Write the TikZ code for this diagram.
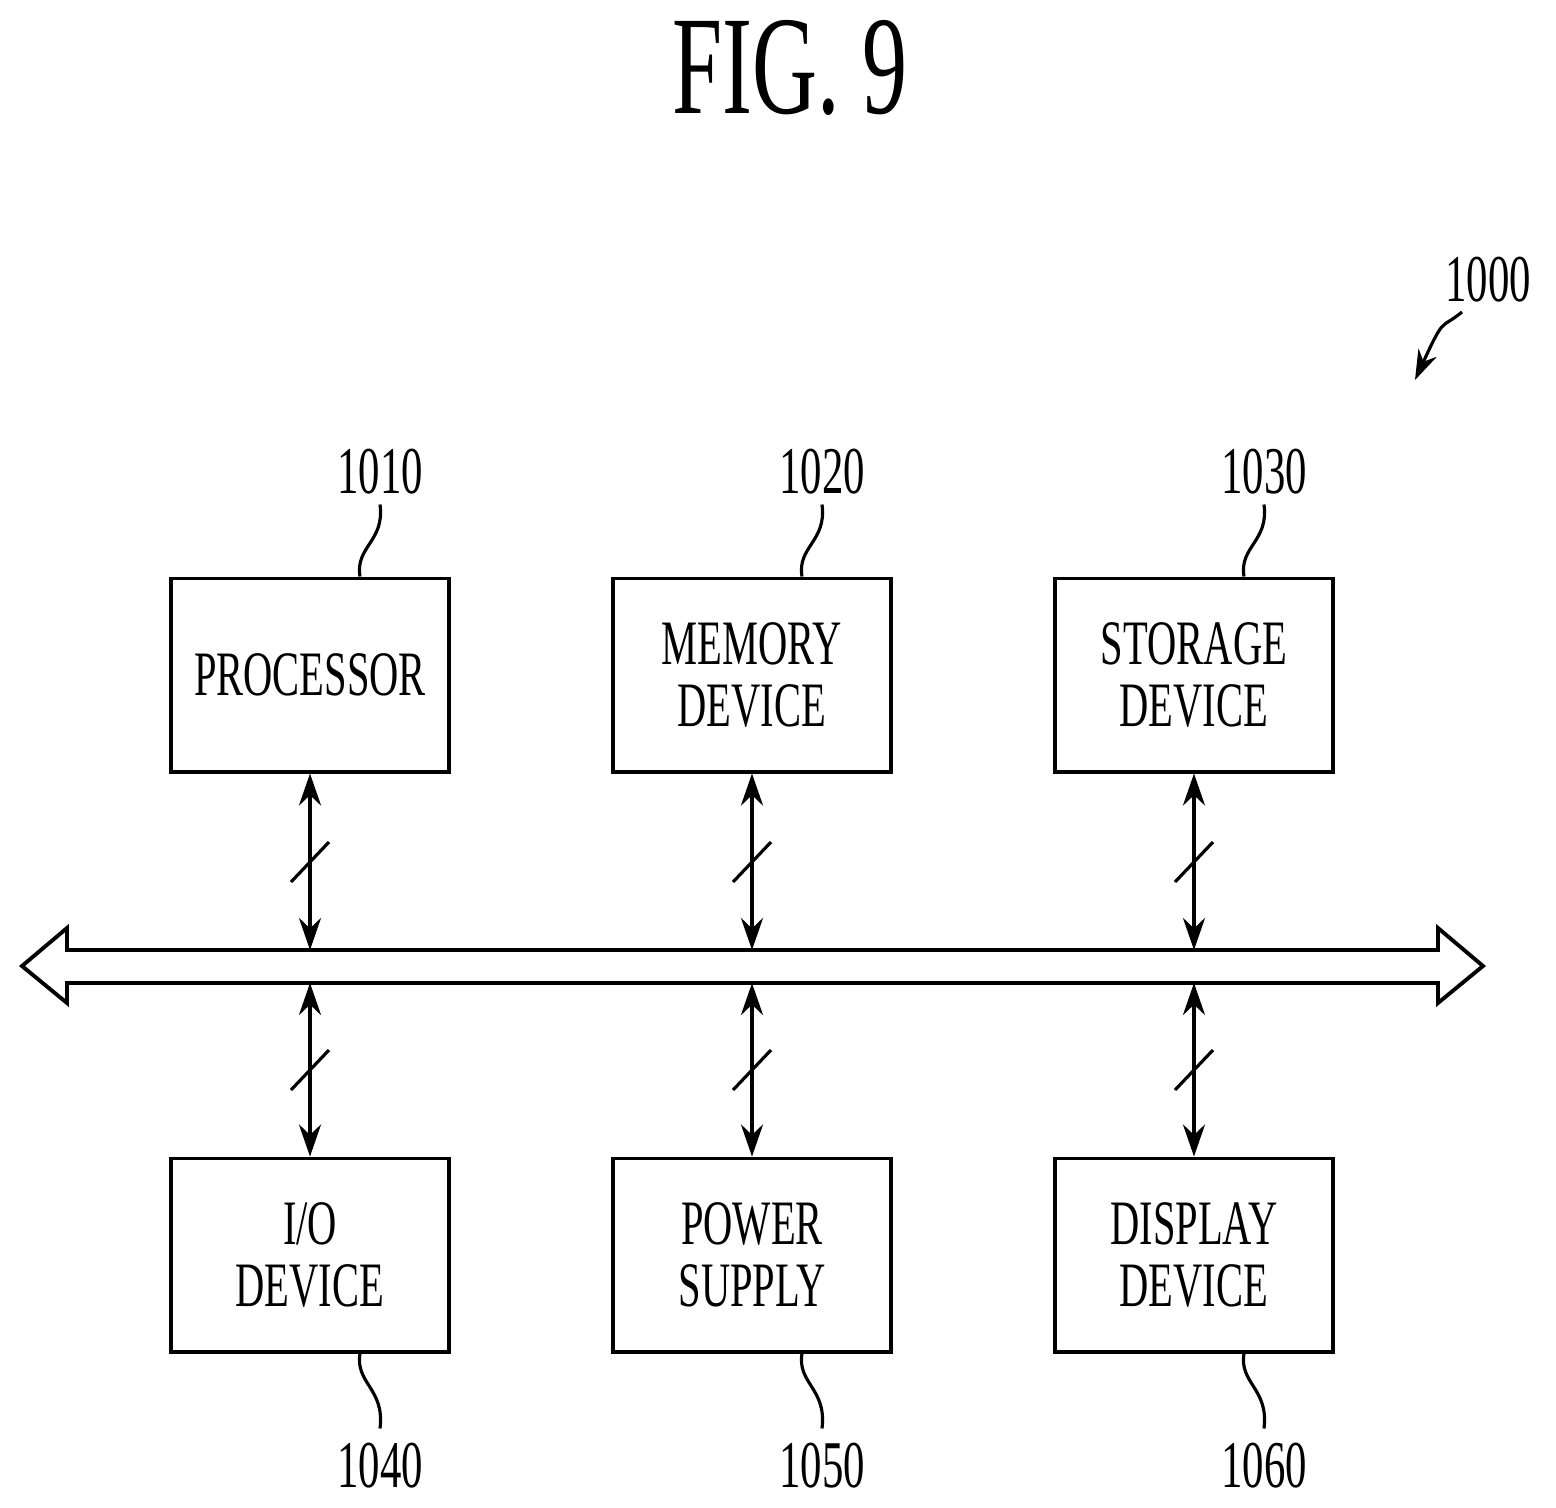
\documentclass[tikz,border=0pt]{standalone}
\usepackage{fontspec}
\setmainfont{Liberation Serif}
\newfontfamily\patfont[FakeStretch=0.64]{Liberation Serif}
\usetikzlibrary{arrows.meta, positioning, calc}

\begin{document}
\begin{tikzpicture}[
    x=0.01cm, y=-0.01cm,
    box/.style={rectangle, draw, line width=1.1pt, minimum width=2.77cm, minimum height=1.93cm, align=center, font=\patfont\fontsize{18}{17.5}\selectfont, inner sep=0pt},
    refnum/.style={font=\patfont\fontsize{19}{20}\selectfont},
    arrow/.style={{Stealth[length=3.2mm, width=2.2mm]}-{Stealth[length=3.2mm, width=2.2mm]}, line width=1.1pt},
    lead/.style={line width=0.9pt},
    slash/.style={line width=0.9pt}
]
\useasboundingbox (0,0) rectangle (1556,1508);

% Title
\node[font=\patfont\fontsize{40}{40}\selectfont] (title) at (790,68) {FIG. 9};

% Top row
\node[box] (proc) at (310,675) {PROCESSOR};
\node[box] (mem) at (752,675) {MEMORY\\DEVICE};
\node[box] (stor) at (1194,675) {STORAGE\\DEVICE};

% Bottom row
\node[box] (io) at (310,1255) {I/O\\DEVICE};
\node[box] (pow) at (752,1255) {POWER\\SUPPLY};
\node[box] (disp) at (1194,1255) {DISPLAY\\DEVICE};

% Bus
\draw[line width=1.1pt] (22,966) -- (67,928) -- (67,950) -- (1438,950) -- (1438,928)
    -- (1483,966) -- (1438,1003) -- (1438,983) -- (67,983) -- (67,1003) -- cycle;
\foreach \n/\x in {proc/310, mem/752, stor/1194} {
    \coordinate (\n top) at (\x,950);
    \draw[arrow] (\n.south) -- (\n top);
    \draw[slash] (\x-19,882) -- (\x+19,842);
}
\foreach \n/\x in {io/310, pow/752, disp/1194} {
    \coordinate (\n bot) at (\x,983);
    \draw[arrow] (\n bot) -- (\n.north);
    \draw[slash] (\x-19,1090) -- (\x+19,1050);
}

% Reference numerals
\foreach \n/\t in {proc/1010, mem/1020, stor/1030} {
    \node[refnum] (\n num) at ($(\n.north)+(70,-105)$) {\t};
    \draw[lead] ($(\n.north)+(50,0)$) .. controls ($(\n.north)+(45,-30)$) and ($(\n.north)+(75,-35)$) .. ($(\n.north)+(70,-72)$);
}
\foreach \n/\t in {io/1040, pow/1050, disp/1060} {
    \node[refnum] (\n num) at ($(\n.south)+(70,112)$) {\t};
    \draw[lead] ($(\n.south)+(50,0)$) .. controls ($(\n.south)+(45,30)$) and ($(\n.south)+(75,35)$) .. ($(\n.south)+(70,75)$);
}

% System numeral
\node[refnum] (sys) at (1488,280) {1000};
\coordinate (systip) at (1415,380);
\draw[lead, -{Stealth[length=3mm, width=2mm]}] (1462,312) .. controls (1440,330) and (1445,315) .. (systip);
\end{tikzpicture}
\end{document}
